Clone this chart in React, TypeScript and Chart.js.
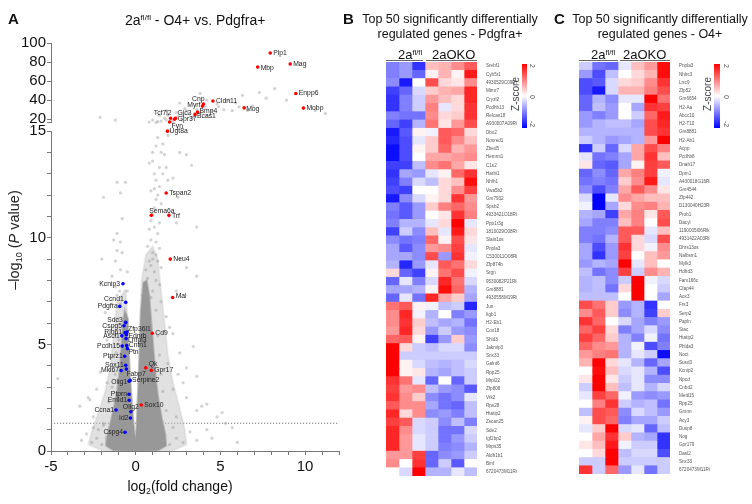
import React, { useEffect, useRef } from 'react';
import { Chart, registerables, LinearScale } from 'chart.js';

Chart.register(...registerables);

const FONT = '"Liberation Sans", Arial, Helvetica, sans-serif';
Chart.defaults.font.family = FONT;

// ---------------- Volcano data (panel A) ----------------
const redGenes = ['Plp1', 'Mag', 'Mbp', 'Enpp6', 'Mobp', 'Cldn11', 'Mog', 'Cnp', 'Myrf', 'Bmp4', 'Bcas1', 'Gjc3', 'Gpr37', 'Tcf7l2', 'Fyn', 'Ugt8a', 'Tspan2', 'Sema6a', 'Trf', 'Neu4', 'Mal', 'Cd9', 'Qk', 'Gpr17', 'Sox10'];
const redLogFC = [7.94, 9.12, 7.2, 9.45, 9.9, 4.56, 6.4, 4.0, 3.94, 3.65, 3.5, 2.35, 2.3, 2.06, 2.0, 1.88, 1.8, 0.92, 1.96, 2.04, 2.18, 0.98, 0.59, 0.92, 0.33];
const redLogP = [89.5, 77.9, 74.7, 47, 31.6, 39, 31.9, 35.8, 33.7, 27.4, 25, 21, 20, 21, 17, 15, 12.1, 11.05, 11.05, 9.0, 7.2, 5.52, 3.9, 3.78, 2.16];

const blueGenes = ['Kcnip3', 'Ccnd1', 'Pdgfra', 'Sdc3', 'Cspg5', 'Rlbp1', 'Zfp36l1', 'Ednrb', 'Ascl1', 'Lhfpl3', 'Pcdh15', 'Cntn1', 'Ptn', 'Ptprz1', 'Sox11', 'Mki67', 'Fabp7', 'Olig1', 'Serpine2', 'Ptprn', 'Emid1', 'Ccna1', 'Olig2', 'Id2', 'Cspg4'];
const blueLogFC = [-0.75, -0.59, -0.94, -0.59, -0.69, -0.63, -0.51, -0.55, -0.82, -0.57, -0.8, -0.53, -0.49, -0.65, -0.59, -0.86, -0.55, -0.39, -0.33, -0.39, -0.39, -1.16, -0.29, -0.31, -0.63];
const blueLogP = [7.84, 6.97, 6.78, 6.03, 5.87, 5.55, 5.58, 5.45, 5.4, 5.27, 4.92, 4.95, 4.8, 4.44, 4.02, 3.77, 3.84, 3.27, 3.31, 2.66, 2.38, 1.92, 1.84, 1.55, 0.88];

// scattered non-highlighted genes [log2FC, -log10 P]
const grayPoints: [number, number][] = [
  [-2.0, 0.3], [-2.3, 0.6], [-2.6, 0.4], [-2.9, 0.8], [-3.2, 0.5], [-2.2, 1.0], [-1.9, 1.2], [-2.5, 1.1], [-2.7, 2.4], [-2.3, 2.9],
  [-1.7, 3.2], [-2.1, 3.7], [-1.5, 4.4], [-1.7, 5.2], [-1.4, 5.8], [-1.8, 6.5], [-1.4, 6.9], [-2.5, 1.6], [-3.3, 2.1], [-1.9, 1.3],
  [-4.6, 3.4], [-2.8, 2.5], [-1.6, 2.3], [-1.4, 3.0], [-1.2, 3.6], [-1.15, 4.6], [-1.0, 5.2], [-1.05, 6.2], [-0.9, 6.9], [-0.95, 7.5],
  [2.0, 0.3], [2.4, 0.6], [2.8, 0.4], [3.2, 0.9], [3.6, 0.5], [4.2, 1.0], [2.2, 1.1], [3.0, 3.9], [3.6, 3.5], [2.2, 5.5],
  [2.6, 4.6], [1.8, 6.3], [2.0, 5.8], [3.4, 4.9], [2.8, 3.2], [2.2, 2.9], [3.0, 2.5], [4.2, 2.2], [3.6, 1.9], [1.8, 1.9],
  [2.4, 1.6], [5.1, 1.8], [5.3, 1.3], [3.9, 2.1], [4.8, 1.6], [5.7, 1.1], [1.6, 2.8], [1.5, 3.6], [1.4, 4.5], [1.3, 5.4],
  [1.2, 6.6], [1.5, 7.0], [2.4, 7.5], [1.9, 4.1], [2.5, 3.6], [4.5, 0.6], [6.0, 0.4],
  [1.3, 14.7], [1.2, 14.3], [1.6, 14.4], [1.7, 13.9], [1.0, 14.0], [2.6, 14.0], [3.0, 13.9], [3.3, 13.4], [0.8, 13.5], [1.4, 13.3],
  [1.8, 13.3], [1.1, 13.0], [1.9, 12.7], [1.2, 12.7], [1.4, 12.4], [0.9, 12.2], [2.2, 12.8], [2.5, 11.9], [-1.9, 11.9], [-1.1, 12.6],
  [-0.6, 12.6], [-0.9, 12.1], [1.2, 11.8], [1.1, 11.4], [1.5, 11.6], [-0.8, 10.9], [1.4, 10.7], [1.1, 10.5], [2.4, 10.7], [3.6, 10.5],
  [-1.1, 10.2], [-1.3, 9.9], [-0.9, 9.8], [0.9, 9.9], [1.2, 9.8], [0.7, 9.6], [1.4, 9.5], [1.0, 9.3], [-1.1, 9.4], [-0.8, 9.3],
  [-2.0, 9.0], [-1.2, 8.9], [0.8, 8.9], [1.3, 8.9], [2.6, 9.0], [3.0, 8.6], [-0.9, 8.5], [-0.5, 8.4], [0.6, 8.5], [1.1, 8.4],
  [3.6, 8.2], [-1.4, 8.2], [0.7, 8.1], [1.2, 8.0], [-1.2, 7.7], [-0.5, 7.5], [0.6, 7.7], [1.0, 7.5], [1.4, 7.8], [-1.1, 7.3],
  [0.4, 7.3], [0.9, 7.2], [0.9, 10.8], [1.0, 11.1], [1.3, 10.2], [0.8, 10.4], [1.0, 9.0], [1.2, 9.2], [0.9, 8.7], [1.5, 8.6],
  [1.1, 12.3], [1.3, 12.0], [1.6, 13.0], [1.5, 14.0], [1.9, 14.8], [1.0, 13.6],
  [-2.1, 22], [-1.2, 19], [1.4, 24], [1.8, 29], [2.6, 37], [3.0, 29], [3.8, 47], [4.2, 40], [4.5, 29], [5.5, 40],
  [5.7, 29], [6.1, 33], [6.6, 29], [7.3, 48], [8.2, 52], [8.9, 40], [10.6, 29], [11.2, 26], [1.8, 19], [1.2, 16.5],
  [2.8, 24], [3.4, 22], [4.2, 24], [4.9, 33], [1.5, 18], [1.7, 21], [2.1, 19], [2.5, 23], [2.7, 19], [3.1, 26],
  [3.3, 21], [2.9, 31], [2.4, 27], [1.9, 24], [1.3, 17.5], [1.0, 19], [0.8, 17], [2.2, 17], [3.6, 30], [4.1, 33],
  [3.8, 26], [4.8, 36], [5.2, 30], [5.9, 37], [6.9, 34], [7.7, 42], [6.3, 45],
];

// outline of the dense centre of the gene cloud [log2FC, -log10 P]
const volcanoCore: [number, number][] = [
  [-0.45, 6.2], [-0.65, 6.6], [-0.78, 5.8], [-0.85, 4.8], [-0.95, 3.8], [-1.1, 2.8], [-1.3, 2.0], [-1.5, 1.3], [-1.7, 0.7], [-1.75, 0.25],
  [-1.3, 0.02], [0, 0], [1.3, 0.02], [1.8, 0.25], [1.75, 0.8], [1.55, 1.5], [1.35, 2.4], [1.2, 3.3], [1.1, 4.3], [1.0, 5.3],
  [0.9, 6.3], [0.8, 7.3], [0.65, 8.0], [0.45, 7.9], [0.3, 6.5], [0.24, 5.0], [0.18, 3.5], [0.1, 2.0], [0.04, 1.0], [-0.02, 0.6],
  [-0.09, 1.0], [-0.2, 2.0], [-0.33, 3.5], [-0.42, 5.0], [-0.45, 6.2],
];
// outline of the lighter halo of the gene cloud [log2FC, -log10 P]
const volcanoHalo: [number, number][] = [
  [-0.6, 7.6], [-1.1, 7.0], [-1.3, 5.5], [-1.5, 4.0], [-1.8, 2.8], [-2.2, 1.8], [-2.6, 0.9], [-2.8, 0.3], [-2.0, 0.02], [0, 0],
  [2.2, 0.02], [3.0, 0.3], [2.9, 1.0], [2.6, 2.0], [2.2, 3.2], [1.9, 4.5], [1.7, 6.0], [1.5, 7.5], [1.3, 9.0], [1.0, 9.6],
  [0.6, 9.2], [0.35, 8.0], [0.28, 6.5], [0.22, 5.0], [0.16, 3.5], [0.08, 2.0], [0.03, 1.0], [-0.02, 0.6], [-0.1, 1.0], [-0.22, 2.0],
  [-0.36, 3.5], [-0.46, 5.0], [-0.5, 6.5], [-0.6, 7.6],
];

const thresholdLine: [number, number][] = [[-5, 1.3], [12, 1.3]];

const xTickValues = [-5, -4, -3, -2, -1, 0, 1, 2, 3, 4, 5, 6, 7, 8, 9, 10, 11, 12];
const xTickLabels = [-5, 0, 5, 10];
const yTickValues = [0, 1, 2, 3, 4, 5, 6, 7, 8, 9, 10, 11, 12, 13, 14, 15, 16, 20, 40, 60, 80, 100];
const yTickLabels = [0, 5, 10, 15, 20, 40, 60, 80, 100];
const yAxisSegments: [number, number][] = [[0, 15], [16, 100]];

// label placement: [dx, dy, align]
const labelPlacement: Record<string, [number, number, CanvasTextAlign]> = {
  Plp1: [3, 0, 'left'], Mag: [3, 0, 'left'], Mbp: [3, 1, 'left'], Enpp6: [3, 0, 'left'], Mobp: [3, 0, 'left'],
  Cldn11: [3, 0, 'left'], Mog: [2, 1, 'left'], Cnp: [1, -5, 'right'], Myrf: [-2, -1, 'right'], Bmp4: [2, -1, 'left'],
  Bcas1: [2, 2, 'left'], Gjc3: [2, -5, 'left'], Gpr37: [3, 0, 'left'], Tcf7l2: [1, -5, 'right'], Fyn: [2, 4, 'left'],
  Ugt8a: [2, 0, 'left'], Tspan2: [3, 0, 'left'], Sema6a: [-2, -4, 'left'], Trf: [3, 1, 'left'], Neu4: [3, 0, 'left'],
  Mal: [3, -1, 'left'], Cd9: [3, 0, 'left'], Qk: [3, -4, 'left'], Gpr17: [3, 0, 'left'], Sox10: [3, 0, 'left'],
  Kcnip3: [-3, 0, 'right'], Ccnd1: [-2, -3, 'right'], Pdgfra: [-2, 0, 'right'], Sdc3: [-3, -2, 'right'], Cspg5: [-2, 0, 'right'],
  Rlbp1: [-3, -1, 'right'], Zfp36l1: [1, -3, 'left'], Ednrb: [2, 1, 'left'], Ascl1: [-2, 0, 'right'], Lhfpl3: [2, 1, 'left'],
  Pcdh15: [-2, 0, 'right'], Cntn1: [2, 0, 'left'], Ptn: [1, 3, 'left'], Ptprz1: [-2, 0, 'right'], Sox11: [-2, 0, 'right'],
  Mki67: [-2, 0, 'right'], Fabp7: [0, 5, 'left'], Olig1: [-2, 1, 'right'], Serpine2: [2, 0, 'left'], Ptprn: [-2, 0, 'right'],
  Emid1: [-2, 0, 'right'], Ccna1: [-2, 0, 'right'], Olig2: [0, -5, 'center'], Id2: [-2, 0, 'right'], Cspg4: [-2, 0, 'right'],
};

// ---------------- Heatmap data (panels B, C) ----------------
const heatColumns = [0, 1, 2, 3, 4, 5, 6]; // 3 x 2a fl/fl, 4 x 2aOKO

const heatBGenes = ['Srebf1', 'Cyb5r1', '4930529C09Rik', 'Mtmr7', 'Cryzl2', 'Pcdhb13', 'Relcan18', 'A930007A09Rik', 'Dbx2', 'Noxred1',
  'Zbed5', 'Hemmt1', 'C1s2', 'Harbi1', 'Nhlh1', 'Vwa5b2', 'Gm7932', 'Spsb2', '4933421O18Rik', 'Ppp1r3g',
  '1810029O08Rik', 'Slain1os', 'Pnpla3', 'C530011O08Rik', 'Zfp874b', 'Srgn', '9530082P21Rik', 'Gm8881', '4930558M19Rik', 'Jun',
  'Itgb1', 'H2-Eb1', 'Cox18', 'Shld3', 'Jakmip3', 'Snx33', 'Galnt6', 'Rpp25', 'Mrpl22', 'Zfp808',
  'Vrk2', 'Rps28', 'Htatip2', 'Zscan25', 'Sde2', 'Igf2bp2', 'Mrps35', 'Aldh1b1', 'Bmf', '6720473M11Rik'];
const heatBValues = [
  [-1.0, -0.8, -1.6, 0.5, 0.6, 0.9, 1.3], [-1.0, -0.8, -1.2, 0.1, 0.6, 0.1, 1.8], [-0.9, -1.8, 0.0, 1.4, 0.3, 0.2, 0.9],
  [-1.5, -1.2, -0.3, 0.4, 0.6, 0.7, 1.7], [-1.6, -1.0, -0.4, 0.8, 0.5, 0.3, 1.7], [-1.6, -1.0, -0.4, 1.0, -0.2, 0.3, 1.6],
  [-1.0, -1.1, -1.1, 0.9, 0.3, 0.4, 1.6], [-1.2, -1.5, -0.6, 1.1, 0.2, 0.8, 1.4], [-1.8, -1.3, 0.1, -0.1, 1.3, 1.2, 0.3],
  [-1.7, -1.4, -0.2, 0.4, 1.3, 0.9, 0.5], [-1.9, -1.4, 0.1, 0.4, 1.2, 0.6, 0.8], [-1.9, -1.4, 0.0, 0.7, 0.7, 0.8, 0.9],
  [-1.5, -1.5, -0.5, 0.9, 1.1, 0.7, 0.2], [-1.6, -0.7, -0.8, -0.2, 0.1, 1.2, 1.6], [-1.5, -1.0, -0.3, -0.5, 0.3, 0.5, 1.9],
  [-1.4, -1.5, 0.0, 0.0, 0.3, 0.9, 1.5], [-1.8, -0.9, -0.3, 0.1, 0.3, 1.6, 0.8], [-1.0, -1.3, -0.8, 0.4, 1.0, 1.2, 0.9],
  [-1.1, -1.3, -0.8, 0.0, 0.2, 1.6, 1.0], [-1.0, -0.6, -0.6, -0.2, 0.3, 2.0, -0.2], [-1.5, -0.4, -0.9, 0.5, -0.2, 1.8, 0.3],
  [-0.9, -1.1, -1.0, 1.2, 0.1, 1.4, 0.2], [-0.7, -1.3, -0.9, 0.8, 0.9, 1.5, -0.2], [-0.7, -0.7, -0.9, 1.4, -0.8, 1.6, -0.1],
  [-0.6, -1.7, -0.8, -0.2, 1.3, 1.1, 0.3], [0.3, -1.2, -1.5, 0.1, 1.1, 1.4, -0.1], [-1.2, -0.2, -1.0, -0.3, 1.7, 1.1, -0.3],
  [-0.7, -0.7, -0.6, 0.1, 1.9, 1.2, -0.6], [-1.2, -0.2, -1.1, 1.7, 0.7, 0.4, -0.7], [1.1, 1.3, 0.1, -0.1, -0.5, -0.4, -1.7],
  [0.9, 1.7, -0.1, -0.6, 0.0, -1.0, -0.8], [0.9, 1.6, 0.4, -0.5, -0.7, -0.6, -1.1], [0.8, 1.7, 0.3, -0.8, -0.4, -0.8, -0.9],
  [1.2, 1.3, 0.1, -1.5, -0.8, 0.4, -0.8], [2.0, 0.3, -0.4, -0.5, -0.3, -0.3, -0.9], [2.0, -0.4, -0.4, -0.4, -0.4, -0.4, -0.4],
  [2.0, 0.1, -0.3, -0.5, -0.6, -0.5, -0.3], [2.0, 0.1, 0.2, -0.6, -0.7, -0.5, -0.4], [1.6, 1.1, -0.2, -1.2, 0.0, -1.2, -0.4],
  [1.5, 0.8, 0.9, -0.5, -0.8, -0.9, -1.3], [1.6, 0.9, 0.4, -0.9, -1.1, -0.9, -0.2], [1.3, 0.9, 0.9, -0.7, -1.1, -1.2, -0.5],
  [1.7, 0.3, 0.9, -0.9, -0.8, -1.0, -0.5], [1.5, 1.3, -0.3, -0.4, -0.9, -0.5, -1.0], [1.7, 0.9, -0.3, -0.4, -1.1, -1.1, -0.3],
  [1.7, 0.8, -0.2, -0.4, -1.1, -0.8, -0.4], [1.7, 0.8, -0.2, -0.4, -1.0, -0.9, -0.6], [0.8, 0.8, 1.5, -1.2, -0.9, -0.8, -0.4],
  [0.9, 0.0, 1.6, -1.2, -0.4, -1.3, 0.0], [0.0, -0.3, 2.0, -0.6, -0.6, -0.2, -0.5],
];

const heatCGenes = ['Pnpla3', 'Nhlrc3', 'Lrrc9', 'Zfp52', 'Gm6654', 'H2-Aa', 'Abcc10', 'H2-T10', 'Gm8881', 'H2-Ab1',
  'Acpp', 'Pcdhb8', 'Dnah17', 'Dpm1', 'A430018G16Rik', 'Gm4544', 'Zfp442', 'D130040H23Rik', 'Prob1', 'Dacyl',
  '1190005I06Rik', '4931422A03Rik', 'Dhrs13os', 'Nalbsm1', 'Mylk3', 'Hdhd3', 'Fam166c', 'Cfap44', 'Aox3', 'Frs3',
  'Serp2', 'Papln', 'Stac', 'Htatip2', 'Phlda3', 'Noct', 'Susd3', 'Kcnip2', 'Npcd', 'Cnbd2',
  'Mettl15', 'Rpp25', 'Gmnn', 'Acy3', 'Dusp8', 'Nog', 'Gpr179', 'Dasl2', 'Snx33', '6720473M11Rik'];
const heatCValues = [
  [-0.4, -1.1, -1.2, -0.2, 0.5, 0.8, 1.9], [-0.8, -1.4, -0.5, 0.0, 0.3, 0.6, 1.9], [-1.4, -1.3, -0.3, 0.3, 0.4, 0.9, 1.6],
  [-1.4, -1.8, -0.3, 0.6, 0.6, 1.0, 1.4], [-1.2, -0.6, -0.9, -0.2, -0.2, 2.0, 1.1], [-1.2, -0.5, -0.8, 0.0, -0.7, 1.6, 1.5],
  [-0.8, -1.0, -0.8, 0.0, -0.4, 1.2, 1.8], [-0.8, -0.6, -0.5, -0.5, -0.7, 1.4, 1.7], [-0.6, -0.6, -0.6, -0.6, -0.6, 1.4, 1.6],
  [-0.4, -0.6, -0.8, -0.7, -0.6, 0.8, 2.0], [-1.6, -0.4, -1.2, -0.3, 0.7, 1.4, 1.0], [-0.2, -1.1, -1.0, -0.7, 0.7, 1.6, 0.5],
  [0.2, -1.2, -1.3, -0.7, 0.1, 1.5, 1.3], [-1.2, -0.9, -1.2, 0.7, 1.0, 1.5, -0.1], [-1.1, -1.0, -1.1, 0.4, 0.9, 1.8, -0.2],
  [-0.9, -1.4, -1.0, 0.7, 1.3, 0.9, 0.2], [-0.3, -2.0, -0.2, 0.9, 0.7, 0.5, 0.5], [-0.1, -2.0, -0.7, 0.3, 0.9, 1.0, 0.6],
  [-0.6, -0.7, -1.5, 0.7, 1.0, 0.2, 1.3], [-0.7, -1.0, -1.0, 0.5, 1.0, 0.0, 1.4], [-1.0, -1.0, -0.9, 1.3, 1.3, -0.2, 0.5],
  [-1.0, -1.1, -0.6, 1.3, 0.3, -0.3, 1.4], [-0.7, -1.4, -0.8, 1.6, 0.3, -0.1, 0.9], [-0.7, -1.6, -0.8, 1.5, 0.0, 0.5, 0.8],
  [-0.8, -0.6, -0.7, 2.0, -0.2, 0.5, 0.0], [-0.5, -1.1, -0.9, 1.5, -0.4, 0.9, 0.6], [-0.6, -0.5, -0.9, -0.4, 2.0, -0.1, -0.3],
  [-0.6, -0.5, -1.1, 0.3, 2.0, 0.0, -0.4], [-0.5, -0.5, -0.5, 0.0, 2.0, 0.0, -0.7], [1.4, 1.1, 0.4, -0.8, -0.6, -1.6, 0.0],
  [0.9, 1.3, 0.4, -0.9, -0.6, -1.5, 0.4], [1.6, 1.2, 0.0, -0.3, -0.7, -1.0, -0.8], [1.2, 1.5, 0.3, -1.0, -0.7, -0.3, -0.9],
  [1.5, 1.2, 0.4, -0.6, -1.0, -0.1, -1.1], [1.2, 0.9, 0.8, -0.6, -0.1, -1.4, -1.0], [0.8, 1.0, 1.1, -0.6, -0.2, -0.4, -1.9],
  [0.6, 2.0, 0.3, -0.2, -0.6, -1.2, -0.7], [0.0, 1.9, 0.5, -0.3, -0.2, -0.6, -1.4], [0.2, 2.0, 0.2, -0.4, -0.2, -0.9, -0.9],
  [-0.4, 2.0, 0.5, -0.5, -0.2, -0.6, -0.3], [-0.2, 1.5, 1.2, -0.1, -0.8, -0.9, -0.8], [0.0, 1.0, 1.6, -0.4, -0.6, -0.5, -1.1],
  [-0.5, 1.4, 1.3, -0.9, -0.3, -0.5, -0.8], [0.1, 1.4, 1.2, -1.0, -0.7, -0.7, -0.4], [-0.2, 0.4, 2.0, -0.3, -0.2, -1.2, -0.5],
  [0.0, 0.7, 1.6, 0.4, -0.6, -0.7, -1.6], [0.2, 0.5, 1.8, -0.1, -0.4, -0.4, -1.6], [0.0, 0.3, 2.0, -0.5, -0.3, -0.3, -1.4],
  [-0.4, -0.4, 2.0, -0.4, -0.4, -0.4, -0.4], [1.6, -0.4, 1.2, -0.8, -0.2, -1.1, -0.4],
];

// ---------------- broken y scale ----------------
const Y_LOW_MAX = 15;
const Y_UP_MIN = 16;
const Y_UP_MAX = 100;
const LOW_SHARE = 0.784;
const GAP_SHARE = 0.02;

function brokenFraction(v: number): number {
  if (v <= Y_LOW_MAX) return (v / Y_LOW_MAX) * LOW_SHARE;
  if (v >= Y_UP_MIN) return LOW_SHARE + GAP_SHARE + ((v - Y_UP_MIN) / (Y_UP_MAX - Y_UP_MIN)) * (1 - LOW_SHARE - GAP_SHARE);
  return LOW_SHARE + ((v - Y_LOW_MAX) / (Y_UP_MIN - Y_LOW_MAX)) * GAP_SHARE;
}
function brokenValue(f: number): number {
  if (f <= LOW_SHARE) return (f / LOW_SHARE) * Y_LOW_MAX;
  if (f >= LOW_SHARE + GAP_SHARE) return Y_UP_MIN + ((f - LOW_SHARE - GAP_SHARE) / (1 - LOW_SHARE - GAP_SHARE)) * (Y_UP_MAX - Y_UP_MIN);
  return Y_LOW_MAX + ((f - LOW_SHARE) / GAP_SHARE) * (Y_UP_MIN - Y_LOW_MAX);
}

class BrokenLinearScale extends LinearScale {
  static id = 'brokenLinear';
  static defaults = LinearScale.defaults;
  getPixelForValue(value: number) {
    return this.bottom - brokenFraction(value) * (this.bottom - this.top);
  }
  getValueForPixel(pixel: number) {
    return brokenValue((this.bottom - pixel) / (this.bottom - this.top));
  }
}
Chart.register(BrokenLinearScale as any);

const geneLabelPlugin = {
  id: 'geneLabels',
  afterDatasetsDraw(chart: any) {
    const ctx = chart.ctx;
    ctx.save();
    ctx.font = `6.8px ${FONT}`;
    ctx.fillStyle = '#222';
    ctx.textBaseline = 'middle';
    chart.data.datasets.forEach((ds: any, di: number) => {
      if (!ds.geneNames) return;
      const meta = chart.getDatasetMeta(di);
      meta.data.forEach((pt: any, i: number) => {
        const name = ds.geneNames[i];
        const [dx, dy, align] = labelPlacement[name] || [3, 0, 'left'];
        ctx.textAlign = align;
        ctx.fillText(name, pt.x + dx, pt.y + dy);
      });
    });
    ctx.restore();
  },
};

const axisBreakPlugin = {
  id: 'axisBreak',
  afterDraw(chart: any) {
    const y = chart.scales.y;
    const ctx = chart.ctx;
    const x = Math.round(chart.chartArea.left) + 0.5;
    ctx.save();
    ctx.strokeStyle = '#777';
    ctx.lineWidth = 1;
    yAxisSegments.forEach(([a, b]) => {
      ctx.beginPath();
      ctx.moveTo(x, y.getPixelForValue(a));
      ctx.lineTo(x, y.getPixelForValue(b));
      ctx.stroke();
    });
    ctx.restore();
  },
};

function volcanoConfig(): any {
  return {
    type: 'scatter',
    data: {
      datasets: [
        {
          label: 'Up', geneNames: redGenes,
          data: redGenes.map((_, i) => ({ x: redLogFC[i], y: redLogP[i] })),
          backgroundColor: '#ff0000', pointRadius: 1.8, borderWidth: 0, order: 0,
        },
        {
          label: 'Down', geneNames: blueGenes,
          data: blueGenes.map((_, i) => ({ x: blueLogFC[i], y: blueLogP[i] })),
          backgroundColor: '#0000ff', pointRadius: 1.8, borderWidth: 0, order: 1,
        },
        {
          label: 'Other',
          data: grayPoints.map(([x, y]) => ({ x, y })),
          backgroundColor: 'rgba(150,150,150,0.42)', pointRadius: 1.6, borderWidth: 0, order: 2,
        },
        {
          label: 'Dense',
          data: volcanoCore.map(([x, y]) => ({ x, y })),
          showLine: true, fill: 'shape', tension: 0,
          backgroundColor: 'rgb(152,152,152)', borderColor: 'rgba(152,152,152,0.5)', borderWidth: 2,
          pointRadius: 0, order: 3,
        },
        {
          label: 'Halo',
          data: volcanoHalo.map(([x, y]) => ({ x, y })),
          showLine: true, fill: 'shape', tension: 0,
          backgroundColor: 'rgba(195,195,195,0.5)', borderColor: 'rgba(195,195,195,0.3)', borderWidth: 2,
          pointRadius: 0, order: 4,
        },
        {
          label: 'P = 0.05',
          data: thresholdLine.map(([x, y]) => ({ x, y })),
          showLine: true, borderColor: '#555', borderWidth: 0.8, borderDash: [1.2, 1.8],
          pointRadius: 0, order: 5,
        },
      ],
    },
    options: {
      responsive: false, animation: false, events: [],
      layout: { padding: { left: 0, right: 6, top: 43, bottom: 0 } },
      plugins: { legend: { display: false }, tooltip: { enabled: false } },
      scales: {
        x: {
          type: 'linear', min: -5, max: 12,
          afterBuildTicks: (s: any) => { s.ticks = xTickValues.map((v) => ({ value: v })); },
          afterFit: (s: any) => { s.height = 53; },
          ticks: {
            autoSkip: false, maxRotation: 0, font: { size: 15 }, color: '#111', padding: 3,
            callback: (v: number) => (xTickLabels.includes(v) ? String(v) : ''),
          },
          grid: { display: true, drawOnChartArea: false, tickLength: 4, tickColor: '#777' },
          border: { display: true, color: '#777' },
        },
        y: {
          type: 'brokenLinear', min: 0, max: 100,
          afterBuildTicks: (s: any) => { s.ticks = yTickValues.map((v) => ({ value: v })); },
          afterFit: (s: any) => { s.width = 51; },
          ticks: {
            autoSkip: false, font: { size: 15 }, color: '#111', padding: 1,
            callback: (v: number) => (yTickLabels.includes(v) ? String(v) : ''),
          },
          grid: { display: true, drawOnChartArea: false, tickLength: 4, tickColor: '#777' },
          border: { display: false },
        },
      },
    },
    plugins: [geneLabelPlugin, axisBreakPlugin],
  };
}

function zColor(z: number): string {
  const t = Math.max(-1, Math.min(1, z / 2));
  if (t >= 0) {
    const c = Math.round(255 * (1 - t));
    return `rgb(255,${c},${c})`;
  }
  const c = Math.round(255 * (1 + t));
  return `rgb(${c},${c},255)`;
}

function heatConfig(genes: string[], values: number[][], pad: any): any {
  return {
    type: 'bar',
    data: {
      labels: genes,
      datasets: heatColumns.map((c) => ({
        label: `col${c}`,
        data: genes.map(() => [c, c + 1]),
        backgroundColor: values.map((row) => zColor(row[c])),
        borderWidth: 0,
        grouped: false,
        categoryPercentage: 1,
        barPercentage: 1,
      })),
    },
    options: {
      indexAxis: 'y',
      responsive: false, animation: false, events: [],
      layout: { padding: pad },
      plugins: { legend: { display: false }, tooltip: { enabled: false } },
      scales: {
        x: { type: 'linear', min: 0, max: 7, display: false },
        y: {
          type: 'category', position: 'right',
          grid: { display: false }, border: { display: false },
          ticks: { autoSkip: false, font: { size: 4.6 }, color: '#555', padding: 1 },
          afterFit: (s: any) => { s.width = 40; },
        },
      },
    },
  };
}

const abs = (left: number, top: number, extra: any = {}): any => ({ position: 'absolute', left, top, lineHeight: 1, whiteSpace: 'nowrap', ...extra });
const supStyle: any = { fontSize: '0.58em', position: 'relative', top: '-0.6em', lineHeight: 0 };
const subStyle: any = { fontSize: '0.62em', position: 'relative', top: '0.35em', lineHeight: 0 };

// box of fixed even size centred on (cx, cy) so a 90° turn stays on the pixel grid
function Rotated({ cx, cy, w, h, deg, style, children }: any) {
  return (
    <div style={{
      position: 'absolute', left: cx - w / 2, top: cy - h / 2, width: w, height: h,
      display: 'flex', alignItems: 'center', justifyContent: 'center',
      transform: `rotate(${deg}deg)`, whiteSpace: 'nowrap', lineHeight: 1, ...style,
    }}>
      <span>{children}</span>
    </div>
  );
}

function HeatDecor({ x2a, xOko, line1, line2, barX, barW, zX, labX }: any) {
  return (
    <>
      <div style={abs(x2a, 48.3, { fontSize: 13, color: '#111' })}>2a<span style={supStyle}>fl/fl</span></div>
      <div style={abs(xOko, 48.3, { fontSize: 13, color: '#111' })}>2aOKO</div>
      <div style={{ position: 'absolute', left: line1[0], top: 60, width: line1[1] - line1[0], height: 1, background: '#666' }} />
      <div style={{ position: 'absolute', left: line2[0], top: 60, width: line2[1] - line2[0], height: 1, background: '#666' }} />
      <div style={{ position: 'absolute', left: barX, top: 64, width: barW, height: 64, background: 'linear-gradient(to bottom, #ff0000, #ffffff, #0000ff)' }} />
      <Rotated cx={zX} cy={94} w={50} h={12} deg={-90} style={{ fontSize: 10, color: '#444' }}>Z-score</Rotated>
      <Rotated cx={labX} cy={66} w={12} h={8} deg={90} style={{ fontSize: 7, color: '#555' }}>2</Rotated>
      <Rotated cx={labX} cy={97} w={12} h={8} deg={90} style={{ fontSize: 7, color: '#555' }}>0</Rotated>
      <Rotated cx={labX} cy={124} w={12} h={8} deg={90} style={{ fontSize: 7, color: '#555' }}>-2</Rotated>
    </>
  );
}

export default function App() {
  const volRef = useRef<HTMLCanvasElement>(null);
  const bRef = useRef<HTMLCanvasElement>(null);
  const cRef = useRef<HTMLCanvasElement>(null);

  useEffect(() => {
    const charts = [
      new Chart(volRef.current as HTMLCanvasElement, volcanoConfig()),
      new Chart(bRef.current as HTMLCanvasElement, heatConfig(heatBGenes, heatBValues, { left: 6, right: 49, top: 62, bottom: 28 })),
      new Chart(cRef.current as HTMLCanvasElement, heatConfig(heatCGenes, heatCValues, { left: 13, right: 42, top: 62, bottom: 30 })),
    ];
    return () => charts.forEach((c) => c.destroy());
  }, []);

  return (
    <div style={{ position: 'absolute', left: 0, top: 0, width: 752, height: 504, overflow: 'hidden', background: '#fff', fontFamily: FONT, color: '#111' }}>
      <canvas ref={volRef} width={345} height={504} style={{ position: 'absolute', left: 0, top: 0 }} />
      <canvas ref={bRef} width={186} height={504} style={{ position: 'absolute', left: 380, top: 0 }} />
      <canvas ref={cRef} width={186} height={504} style={{ position: 'absolute', left: 566, top: 0 }} />

      {/* Panel A */}
      <div style={abs(8, 11, { fontSize: 15, fontWeight: 'bold' })}>A</div>
      <div style={abs(125, 13.2, { fontSize: 14 })}>2a<span style={supStyle}>fl/fl</span> - O4+ vs. Pdgfra+</div>
      <Rotated cx={14} cy={240} w={140} h={18} deg={-90} style={{ fontSize: 14.5, color: '#222', fontWeight: 'normal' }}>–log<span style={subStyle}>10</span> (<i>P</i> value)</Rotated>
      <Rotated cx={180} cy={486} w={160} h={18} deg={0} style={{ fontSize: 14 }}>log<span style={subStyle}>2</span>(fold change)</Rotated>

      {/* Panel B */}
      <div style={abs(343, 11, { fontSize: 15, fontWeight: 'bold' })}>B</div>
      <div style={{ position: 'absolute', left: 330, top: 12.2, width: 240, textAlign: 'center', fontSize: 12.5, lineHeight: '15px' }}>
        Top 50 significantly differentially<br />regulated genes - Pdgfra+
      </div>
      <HeatDecor x2a={398} xOko={432} line1={[386, 423]} line2={[426, 477]} barX={522} barW={5} zX={516} labX={533} />

      {/* Panel C */}
      <div style={abs(554, 11, { fontSize: 15, fontWeight: 'bold' })}>C</div>
      <div style={{ position: 'absolute', left: 560, top: 12.2, width: 200, textAlign: 'center', fontSize: 12.5, lineHeight: '15px' }}>
        Top 50 significantly differentially<br />regulated genes - O4+
      </div>
      <HeatDecor x2a={591} xOko={623} line1={[579, 618]} line2={[620, 670]} barX={714} barW={6} zX={708} labX={727} />
    </div>
  );
}
